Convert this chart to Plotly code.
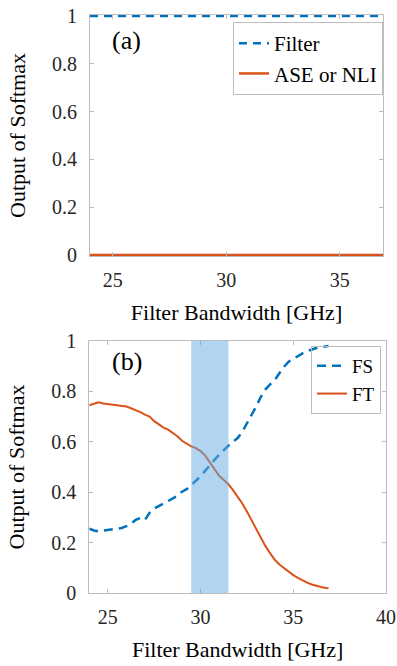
import plotly.graph_objects as go

# ---------------- data ----------------
# panel (a)
bw_a = [24.0, 25.0, 26.0, 27.0, 28.0, 29.0, 30.0, 31.0, 32.0, 33.0, 34.0, 35.0, 36.0, 36.9]
filter_a = [1.0] * len(bw_a)
ase_a = [0.0] * len(bw_a)

# panel (b)
bw_b = [24.00, 24.25, 24.50, 24.75, 25.00, 25.25, 25.50, 25.75, 26.00, 26.25,
        26.50, 26.75, 27.00, 27.25, 27.50, 27.75, 28.00, 28.25, 28.50, 28.75,
        29.00, 29.25, 29.50, 29.75, 30.00, 30.25, 30.50, 30.75, 31.00, 31.25,
        31.50, 31.75, 32.00, 32.25, 32.50, 32.75, 33.00, 33.25, 33.50, 33.75,
        34.00, 34.25, 34.50, 34.75, 35.00, 35.25, 35.50, 35.75, 36.00, 36.25,
        36.50, 36.75, 36.90]
fs_b = [0.255, 0.248, 0.245, 0.248, 0.250, 0.252, 0.255, 0.258, 0.265, 0.275,
        0.290, 0.298, 0.290, 0.318, 0.335, 0.345, 0.352, 0.362, 0.372, 0.385,
        0.402, 0.412, 0.428, 0.445, 0.463, 0.485, 0.508, 0.528, 0.548, 0.568,
        0.585, 0.600, 0.615, 0.640, 0.672, 0.705, 0.740, 0.778, 0.808, 0.828,
        0.845, 0.872, 0.898, 0.918, 0.930, 0.942, 0.951, 0.960, 0.967, 0.972,
        0.976, 0.979, 0.980]
ft_b = [0.745, 0.752, 0.757, 0.752, 0.750, 0.748, 0.745, 0.743, 0.740, 0.733,
        0.726, 0.718, 0.708, 0.700, 0.682, 0.668, 0.656, 0.648, 0.636, 0.622,
        0.604, 0.592, 0.582, 0.575, 0.563, 0.545, 0.520, 0.495, 0.465, 0.448,
        0.432, 0.408, 0.382, 0.355, 0.323, 0.288, 0.252, 0.218, 0.186, 0.158,
        0.132, 0.113, 0.098, 0.083, 0.071, 0.060, 0.050, 0.041, 0.034, 0.028,
        0.024, 0.020, 0.019]
band_b = [29.5, 31.5]

x_ticks_a = [25, 30, 35]
x_ticks_b = [25, 30, 35, 40]
y_ticks = [0, 0.2, 0.4, 0.6, 0.8, 1]
y_tick_text = ["0", "0.2", "0.4", "0.6", "0.8", "1"]

# ---------------- style ----------------
BLUE = "#0072BD"
ORANGE = "#D95319"
AXC = "#bdbdbd"
FONT = "Liberation Serif"
W, H = 397, 666


def px_x(a, b):
    return [a / W, b / W]


def px_y(top, bottom):
    return [1 - bottom / H, 1 - top / H]


fig = go.Figure()

fig.add_trace(go.Scatter(x=bw_a, y=filter_a, mode="lines", name="Filter",
                         line=dict(color=BLUE, width=2.5, dash="8px,6px"),
                         xaxis="x", yaxis="y", legend="legend"))
fig.add_trace(go.Scatter(x=bw_a, y=ase_a, mode="lines", name="ASE or NLI",
                         line=dict(color=ORANGE, width=2.5),
                         xaxis="x", yaxis="y", legend="legend"))

fig.add_trace(go.Scatter(x=bw_b, y=fs_b, mode="lines", name="FS",
                         line=dict(color=BLUE, width=2.5, dash="9px,6px"),
                         xaxis="x2", yaxis="y2", legend="legend2"))
fig.add_trace(go.Scatter(x=bw_b, y=ft_b, mode="lines", name="FT",
                         line=dict(color=ORANGE, width=2),
                         xaxis="x2", yaxis="y2", legend="legend2"))

fig.add_shape(type="rect", xref="x2", yref="y2 domain",
              x0=band_b[0], x1=band_b[1], y0=0, y1=1,
              fillcolor="rgb(100,170,225)", opacity=0.5, line_width=0,
              layer="above")

axis_common = dict(showline=True, linecolor=AXC, linewidth=1, mirror="ticks",
                   ticks="inside", ticklen=4, tickcolor=AXC, showgrid=False,
                   zeroline=False, automargin=False,
                   tickfont=dict(family=FONT, size=20, color="#262626"))
title_font = dict(family=FONT, size=22, color="black")

dom_a_x = px_x(90, 383)
dom_a_y = px_y(15, 256)
dom_b_x = px_x(89.3, 386)
dom_b_y = px_y(341, 593)

fig.update_layout(
    template="none",
    width=W, height=H,
    margin=dict(l=0, r=0, t=0, b=0, autoexpand=False),
    paper_bgcolor="white", plot_bgcolor="white",
    font=dict(family=FONT, color="black"),
    xaxis=dict(domain=dom_a_x, anchor="y", range=[24, 36.9],
               tickvals=x_ticks_a, ticklabelstandoff=6,
               title=dict(text="Filter Bandwidth [GHz]", font=title_font, standoff=14),
               **axis_common),
    yaxis=dict(domain=dom_a_y, anchor="x", range=[-0.004, 1.004],
               tickvals=y_ticks, ticktext=y_tick_text, ticklabelstandoff=8,
               title=dict(text="Output of Softmax", font=title_font, standoff=20),
               **axis_common),
    xaxis2=dict(domain=dom_b_x, anchor="y2", range=[24, 40],
                tickvals=x_ticks_b, ticklabelstandoff=6,
                title=dict(text="Filter Bandwidth [GHz]", font=title_font, standoff=14),
                **axis_common),
    yaxis2=dict(domain=dom_b_y, anchor="x2", range=[0, 1],
                tickvals=y_ticks, ticktext=y_tick_text, ticklabelstandoff=8,
                title=dict(text="Output of Softmax", font=title_font, standoff=20),
                **axis_common),
    legend=dict(x=dom_a_x[1], xanchor="right", y=1 - 22 / H, yanchor="top",
                bgcolor="white", bordercolor=AXC, borderwidth=1,
                font=dict(family=FONT, size=21, color="black"),
                itemwidth=30, tracegroupgap=0),
    legend2=dict(x=381 / W, xanchor="right", y=1 - 346 / H, yanchor="top",
                 bgcolor="rgba(255,255,255,0)", bordercolor=AXC, borderwidth=1,
                 font=dict(family=FONT, size=19, color="black"),
                 itemwidth=30, tracegroupgap=0),
    showlegend=True,
)

fig.add_annotation(text="(a)", xref="x domain", yref="y domain", x=0.068, y=0.896,
                   xanchor="left", yanchor="middle", showarrow=False,
                   font=dict(family=FONT, size=26, color="black"))
fig.add_annotation(text="(b)", xref="x2 domain", yref="y2 domain", x=0.07, y=0.917,
                   xanchor="left", yanchor="middle", showarrow=False,
                   font=dict(family=FONT, size=26, color="black"))

fig.write_html("out.html", config={"displayModeBar": False},
               post_script="document.body.style.margin='0';")
